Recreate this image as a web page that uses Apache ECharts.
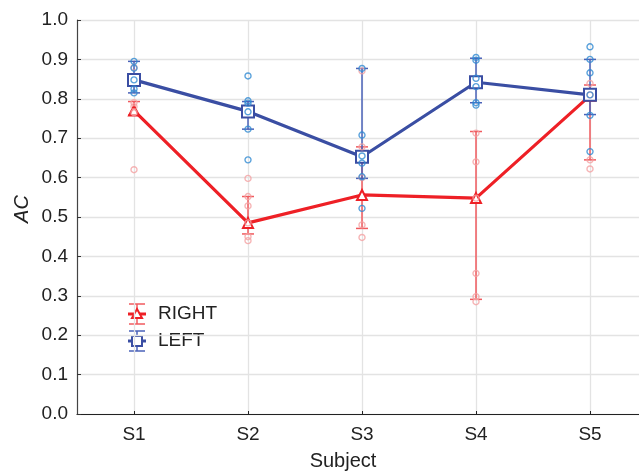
<!DOCTYPE html>
<html>
<head>
<meta charset="utf-8">
<script src="https://cdn.jsdelivr.net/npm/echarts@6/dist/echarts.min.js"></script>
<style>html,body{margin:0;padding:0;background:#fff}#c{width:639px;height:472px}</style>
</head>
<body>
<div id="c"></div>
<script>
var categories = ['S1', 'S2', 'S3', 'S4', 'S5'];
var yTicks = [0, 0.1, 0.2, 0.3, 0.4, 0.5, 0.6, 0.7, 0.8, 0.9, 1.0];
var rightMean = [0.770, 0.485, 0.556, 0.548, 0.808];
var rightLow  = [0.759, 0.457, 0.471, 0.291, 0.645];
var rightHigh = [0.793, 0.552, 0.678, 0.717, 0.835];
var leftMean  = [0.848, 0.768, 0.653, 0.842, 0.810];
var leftLow   = [0.815, 0.723, 0.598, 0.790, 0.760];
var leftHigh  = [0.895, 0.793, 0.877, 0.903, 0.900];
var rightPoints = [
  [0.880, 0.790, 0.780, 0.765, 0.620],
  [0.598, 0.552, 0.528, 0.485, 0.450, 0.440],
  [0.871, 0.678, 0.600, 0.480, 0.448],
  [0.713, 0.640, 0.548, 0.357, 0.298, 0.285],
  [0.839, 0.810, 0.645, 0.622]
];
var leftPoints = [
  [0.895, 0.878, 0.848, 0.825, 0.815],
  [0.858, 0.795, 0.789, 0.767, 0.723, 0.645],
  [0.877, 0.708, 0.655, 0.637, 0.602, 0.522],
  [0.905, 0.898, 0.852, 0.831, 0.790, 0.784],
  [0.932, 0.900, 0.866, 0.810, 0.758, 0.666]
];

var RED = '#ee2026', RED_BAR = '#f05a5e', RED_PT = '#f4a1a3';
var BLUE = '#3a4ea3', BLUE_BAR = '#4a62b8', BLUE_PT = '#2f8ad2';
var FONT = 'Liberation Sans, Arial, sans-serif';
var FS = 19;

function flatten(pts) {
  var out = [];
  pts.forEach(function (arr, i) { arr.forEach(function (v) { out.push([i, v]); }); });
  return out;
}
function errData(lo, hi) { return lo.map(function (v, i) { return [i, v, hi[i]]; }); }
function errRender(color) {
  return function (params, api) {
    var x = api.value(0);
    var pLo = api.coord([x, api.value(1)]);
    var pHi = api.coord([x, api.value(2)]);
    var w = 6;
    var st = { stroke: color, lineWidth: 1.5 };
    return { type: 'group', children: [
      { type: 'line', shape: { x1: pLo[0], y1: pLo[1], x2: pHi[0], y2: pHi[1] }, style: st },
      { type: 'line', shape: { x1: pLo[0] - w, y1: pLo[1], x2: pLo[0] + w, y2: pLo[1] }, style: st },
      { type: 'line', shape: { x1: pHi[0] - w, y1: pHi[1], x2: pHi[0] + w, y2: pHi[1] }, style: st }
    ]};
  };
}

var chart = echarts.init(document.getElementById('c'));
chart.setOption({
  animation: false,
  backgroundColor: '#fff',
  grid: { left: 77, top: 20, height: 394, width: 570, containLabel: false, outerBoundsMode: 'none' },
  xAxis: {
    type: 'category', data: categories, boundaryGap: true,
    axisLine: { lineStyle: { color: '#222', width: 1.2 } },
    axisTick: { show: true, inside: true, length: 3, alignWithLabel: true, lineStyle: { color: '#222' } },
    axisLabel: { fontSize: FS, color: '#222', margin: 11, fontFamily: FONT },
    splitLine: { show: true, alignWithLabel: true, lineStyle: { color: '#e3e3e3', width: 1.3 } }
  },
  yAxis: {
    type: 'value', min: 0, max: 1, interval: 0.1,
    axisLine: { show: true, lineStyle: { color: '#444', width: 1.2 } },
    axisTick: { show: true, inside: true, length: 4, lineStyle: { color: '#333' } },
    axisLabel: { fontSize: FS, color: '#222', margin: 9, fontFamily: FONT,
      formatter: function (v) { return v.toFixed(1); } },
    splitLine: { show: true, lineStyle: { color: '#e3e3e3', width: 1.3 } }
  },
  series: [
    { type: 'custom', name: 'RIGHT err', renderItem: errRender(RED_BAR), data: errData(rightLow, rightHigh), z: 2 },
    { type: 'custom', name: 'LEFT err', renderItem: errRender(BLUE_BAR), data: errData(leftLow, leftHigh), z: 2 },
    { type: 'line', name: 'RIGHT', data: rightMean, z: 3,
      lineStyle: { color: RED, width: 3.2 }, symbol: 'triangle', symbolSize: 10, showAllSymbol: true,
      itemStyle: { color: '#fff', borderColor: RED, borderWidth: 2 } },
    { type: 'line', name: 'LEFT', data: leftMean, z: 3,
      lineStyle: { color: BLUE, width: 3.2 }, symbol: 'rect', symbolSize: 12, showAllSymbol: true,
      itemStyle: { color: '#fff', borderColor: BLUE, borderWidth: 2 } },
    { type: 'scatter', name: 'RIGHT pts', data: flatten(rightPoints), z: 4,
      symbol: 'circle', symbolSize: 6, itemStyle: { color: 'rgba(255,255,255,0)', borderColor: RED_PT, borderWidth: 1.4 } },
    { type: 'scatter', name: 'LEFT pts', data: flatten(leftPoints), z: 4,
      symbol: 'circle', symbolSize: 6, itemStyle: { color: 'rgba(255,255,255,0)', borderColor: BLUE_PT, borderWidth: 1.4 } }
  ],
  graphic: [
    { type: 'text', x: 22, y: 209, rotation: Math.PI / 2,
      style: { text: 'AC', fontSize: 20, fontStyle: 'italic', fontFamily: FONT, fill: '#222', align: 'center', verticalAlign: 'middle' } },
    { type: 'text', x: 343, y: 461,
      style: { text: 'Subject', fontSize: 20, fontFamily: FONT, fill: '#222', align: 'center', verticalAlign: 'middle' } },
    { type: 'group', x: 137, y: 314, children: [
      { type: 'line', shape: { x1: 0, y1: -10, x2: 0, y2: 10 }, style: { stroke: RED_BAR, lineWidth: 1.5 } },
      { type: 'line', shape: { x1: -8, y1: -10, x2: 8, y2: -10 }, style: { stroke: RED_BAR, lineWidth: 1.5 } },
      { type: 'line', shape: { x1: -8, y1: 10, x2: 8, y2: 10 }, style: { stroke: RED_BAR, lineWidth: 1.5 } },
      { type: 'line', shape: { x1: -9, y1: 0, x2: 9, y2: 0 }, style: { stroke: RED, lineWidth: 3 } },
      { type: 'polygon', shape: { points: [[0, -5], [5, 4], [-5, 4]] }, style: { fill: '#fff', stroke: RED, lineWidth: 2 } }
    ]},
    { type: 'text', x: 158, y: 314,
      style: { text: 'RIGHT', fontSize: FS, fontFamily: FONT, fill: '#222', align: 'left', verticalAlign: 'middle' } },
    { type: 'group', x: 137, y: 341, children: [
      { type: 'line', shape: { x1: 0, y1: -10, x2: 0, y2: 10 }, style: { stroke: BLUE_BAR, lineWidth: 1.5 } },
      { type: 'line', shape: { x1: -8, y1: -10, x2: 8, y2: -10 }, style: { stroke: BLUE_BAR, lineWidth: 1.5 } },
      { type: 'line', shape: { x1: -8, y1: 10, x2: 8, y2: 10 }, style: { stroke: BLUE_BAR, lineWidth: 1.5 } },
      { type: 'line', shape: { x1: -9, y1: 0, x2: 9, y2: 0 }, style: { stroke: BLUE, lineWidth: 3 } },
      { type: 'rect', shape: { x: -5, y: -5, width: 10, height: 10 }, style: { fill: '#fff', stroke: BLUE, lineWidth: 2 } }
    ]},
    { type: 'text', x: 158, y: 341,
      style: { text: 'LEFT', fontSize: FS, fontFamily: FONT, fill: '#222', align: 'left', verticalAlign: 'middle' } }
  ]
});
</script>
</body>
</html>
